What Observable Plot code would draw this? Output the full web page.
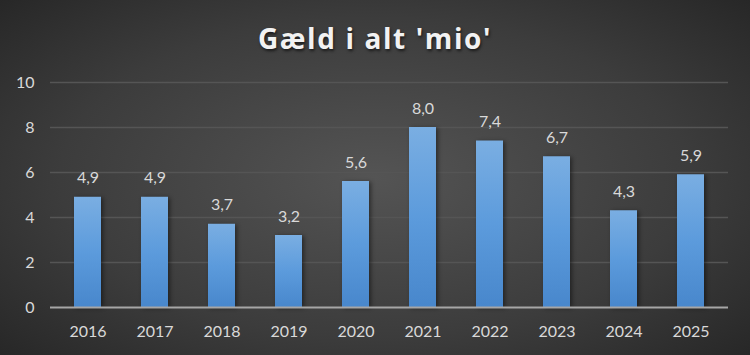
<!DOCTYPE html>
<html>
<head>
<meta charset="utf-8">
<script src="https://cdn.jsdelivr.net/npm/d3@7"></script>
<script src="https://cdn.jsdelivr.net/npm/@observablehq/plot@0.6"></script>
<style>
  html, body { margin: 0; padding: 0; }
  #wrap {
    width: 750px; height: 355px; position: relative; overflow: hidden;
    background: radial-gradient(ellipse 70% 75% at 50% 50%, #545454 0%, #3c3c3c 60%, #262626 100%);
    font-family: Lato, "Open Sans", sans-serif;
  }
  #title {
    height: 70px; line-height: 76px; text-align: center;
    font-family: "Open Sans", sans-serif; font-weight: 700; font-size: 28px;
    letter-spacing: 1.6px; color: #f2f2f2;
    text-shadow: 1px 2px 3px rgba(0,0,0,0.6);
  }
  .bars rect { filter: drop-shadow(2px 1px 2px rgba(0,0,0,0.45)); }
</style>
</head>
<body>
<div id="wrap"><div id="title">Gæld i alt 'mio'</div></div>
<script>
const years = ["2016","2017","2018","2019","2020","2021","2022","2023","2024","2025"];
const values = [4.9, 4.9, 3.7, 3.2, 5.6, 8.0, 7.4, 6.7, 4.3, 5.9];
const yTicks = [0, 2, 4, 6, 8, 10];

const data = years.map((y, i) => ({year: y, value: values[i]}));
const fmt = v => v.toFixed(1).replace(".", ",");

const plot = Plot.plot({
  width: 750,
  height: 285,
  marginLeft: 50,
  marginRight: 22,
  marginTop: 12,
  marginBottom: 48,
  style: {background: "transparent", color: "#d9d9d9", fontSize: "16px", fontFamily: "Lato, 'Open Sans', sans-serif"},
  x: {domain: years, paddingInner: 0.6, paddingOuter: 0.3, label: null, tickSize: 0, tickPadding: 18},
  y: {domain: [0, 10], ticks: yTicks, label: null, tickSize: 0, tickPadding: 16, tickFormat: d => String(d)},
  marks: [
    Plot.gridY(yTicks.filter(d => d > 0), {stroke: "#555555", strokeOpacity: 1, strokeWidth: 1.5}),
    Plot.barY(data, {x: "year", y: "value", fill: "url(#barGrad)", className: "bars"}),
    Plot.ruleY([0], {stroke: "#a6a6a6", strokeWidth: 2}),
    Plot.text(data, {x: "year", y: "value", text: d => fmt(d.value), dy: -19, fill: "#d9d9d9", fontSize: 16})
  ]
});

const svg = d3.select(plot);
const defs = svg.insert("defs", ":first-child");
const g = defs.append("linearGradient").attr("id", "barGrad").attr("x1", 0).attr("y1", 0).attr("x2", 0).attr("y2", 1);
g.append("stop").attr("offset", "0%").attr("stop-color", "#7aaee2");
g.append("stop").attr("offset", "50%").attr("stop-color", "#5c9bdc");
g.append("stop").attr("offset", "100%").attr("stop-color", "#4887cc");

document.getElementById("wrap").appendChild(plot);
</script>
</body>
</html>
